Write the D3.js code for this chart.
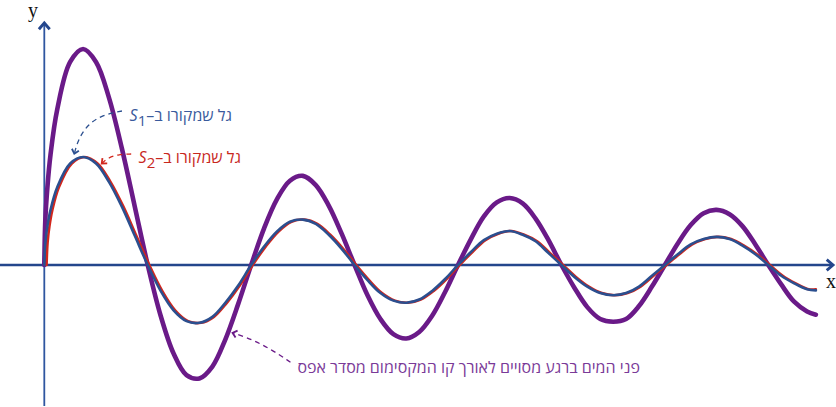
<!DOCTYPE html>
<html>
<head>
<meta charset="utf-8">
<script src="https://cdn.jsdelivr.net/npm/d3@7"></script>
<style>
  html, body { margin: 0; padding: 0; background: #fff; }
  svg { display: block; }
</style>
</head>
<body>
<svg id="chart" width="836" height="407"></svg>
<script>
// ---- data ----
// positions along x, in half-wavelength units (zeros at whole numbers)
const tGrid = [0, 0.01, 0.03, 0.06, 0.125, 0.25, 0.375, 0.5, 0.625, 0.75, 0.875, 1,
  1.125, 1.25, 1.375, 1.5, 1.625, 1.75, 1.875, 2,
  2.125, 2.25, 2.375, 2.5, 2.625, 2.75, 2.875, 3,
  3.125, 3.25, 3.375, 3.5, 3.625, 3.75, 3.875, 4,
  4.125, 4.25, 4.375, 4.5, 4.625, 4.75, 4.875, 5,
  5.125, 5.25, 5.375, 5.5, 5.625, 5.75, 5.875, 6,
  6.125, 6.25, 6.375, 6.5, 6.625, 6.75, 6.875, 7,
  7.125, 7.25, 7.375, 7.46];

// wave from S1 (blue)
const s1Values = [0, 0.21, 0.36, 0.51, 0.72, 0.94, 1.00, 0.94, 0.77, 0.54, 0.27, 0,
  -0.24, -0.42, -0.52, -0.535, -0.48, -0.35, -0.19, 0,
  0.17, 0.31, 0.40, 0.42, 0.38, 0.28, 0.15, 0,
  -0.14, -0.26, -0.33, -0.35, -0.32, -0.24, -0.13, 0,
  0.12, 0.23, 0.29, 0.315, 0.28, 0.22, 0.11, 0,
  -0.11, -0.20, -0.26, -0.28, -0.26, -0.20, -0.10, 0,
  0.10, 0.19, 0.24, 0.26, 0.24, 0.18, 0.10, 0,
  -0.10, -0.17, -0.225, -0.235];

// wave from S2 (red) – slightly later start
const s2X = [0.022, 0.032, 0.05, 0.078, 0.141, 0.266, 0.39, 0.515, 0.64, 0.765, 0.89, 1.015,
  1.14, 1.265, 1.39, 1.515, 1.64, 1.765, 1.89, 2.015,
  2.14, 2.265, 2.39, 2.515, 2.64, 2.765, 2.89, 3.015,
  3.14, 3.265, 3.39, 3.515, 3.64, 3.765, 3.89, 4.015,
  4.14, 4.265, 4.39, 4.515, 4.64, 4.765, 4.89, 5.015,
  5.14, 5.265, 5.39, 5.515, 5.64, 5.765, 5.89, 6.015,
  6.14, 6.265, 6.39, 6.515, 6.64, 6.765, 6.89, 7.015,
  7.14, 7.265, 7.39, 7.46];
const s2Values = [0, 0.21, 0.36, 0.51, 0.72, 0.94, 1.00, 0.94, 0.77, 0.54, 0.27, 0,
  -0.24, -0.42, -0.52, -0.535, -0.48, -0.35, -0.19, 0,
  0.17, 0.31, 0.40, 0.42, 0.38, 0.28, 0.15, 0,
  -0.14, -0.26, -0.33, -0.35, -0.32, -0.24, -0.13, 0,
  0.12, 0.23, 0.29, 0.315, 0.28, 0.22, 0.11, 0,
  -0.11, -0.20, -0.26, -0.28, -0.26, -0.20, -0.10, 0,
  0.10, 0.19, 0.24, 0.26, 0.24, 0.18, 0.10, 0,
  -0.10, -0.17, -0.225, -0.225];

// water surface along the zeroth-order maximum line (purple)
const surfaceValues = [0, 0.42, 0.72, 1.02, 1.44, 1.88, 2.00, 1.88, 1.55, 1.08, 0.54, 0,
  -0.47, -0.82, -1.02, -1.05, -0.94, -0.69, -0.36, 0,
  0.34, 0.61, 0.78, 0.825, 0.74, 0.55, 0.29, 0,
  -0.28, -0.50, -0.64, -0.68, -0.62, -0.47, -0.25, 0,
  0.24, 0.45, 0.58, 0.62, 0.57, 0.43, 0.23, 0,
  -0.21, -0.39, -0.50, -0.525, -0.50, -0.38, -0.20, 0,
  0.20, 0.37, 0.48, 0.51, 0.47, 0.36, 0.19, 0,
  -0.18, -0.34, -0.43, -0.46];

const labelS1 = "גל שמקורו ב–";
const labelS2 = "גל שמקורו ב–";
const labelSurface = "פני המים ברגע מסויים לאורך קו המקסימום מסדר אפס";

// ---- drawing ----
const svg = d3.select("#chart");
const x = d3.scaleLinear().domain([0, 7.5]).range([44.3, 820]);
const y = d3.scaleLinear().domain([-1, 2]).range([373, 49]);

const axisColor = "#24468c";
const blue = "#2b4f8f";
const red = "#d2261c";
const purple = "#6a1a88";

const defs = svg.append("defs");
function chevron(id, color, size, sw) {
  defs.append("marker")
    .attr("id", id).attr("viewBox", "-10 -10 20 20")
    .attr("markerWidth", size).attr("markerHeight", size)
    .attr("markerUnits", "userSpaceOnUse")
    .attr("refX", 0).attr("refY", 0).attr("orient", "auto")
    .append("path").attr("d", "M-7,-6 L0,0 L-7,6")
    .attr("fill", "none").attr("stroke", color).attr("stroke-width", sw)
    .attr("stroke-linejoin", "miter");
}
chevron("axArrow", axisColor, 18, 3.2);
chevron("blueArrow", blue, 12, 3);
chevron("redArrow", red, 12, 3);
chevron("purpleArrow", purple, 12, 3);

// axes
svg.append("line")
  .attr("x1", 0).attr("x2", 833).attr("y1", y(0)).attr("y2", y(0))
  .attr("stroke", axisColor).attr("stroke-width", 2.6)
  .attr("marker-end", "url(#axArrow)");
svg.append("line")
  .attr("x1", x(0)).attr("x2", x(0)).attr("y1", 406).attr("y2", 23)
  .attr("stroke", "#2f56a0").attr("stroke-width", 1.8)
  .attr("marker-end", "url(#axArrow)");

svg.append("text").attr("x", 28).attr("y", 17)
  .attr("font-family", "Liberation Serif, DejaVu Serif, serif")
  .attr("font-size", 20).attr("fill", "#111").text("y");
svg.append("text").attr("x", 826).attr("y", 288)
  .attr("font-family", "Liberation Serif, DejaVu Serif, serif")
  .attr("font-size", 20).attr("fill", "#111").text("x");

// curves
const curve = d3.curveCatmullRom.alpha(0.5);
const line = d3.line().x(d => x(d[0])).y(d => y(d[1])).curve(curve);

svg.append("path").datum(tGrid.map((t, i) => [t, surfaceValues[i]]))
  .attr("d", line).attr("fill", "none").attr("stroke", purple)
  .attr("stroke-width", 4.6).attr("stroke-linecap", "round").attr("stroke-linejoin", "round");
svg.append("path").datum(s2X.map((t, i) => [t, s2Values[i]]))
  .attr("d", line).attr("fill", "none").attr("stroke", red)
  .attr("stroke-width", 2.6).attr("stroke-linecap", "round");
svg.append("path").datum(tGrid.map((t, i) => [t, s1Values[i]]))
  .attr("d", line).attr("fill", "none").attr("stroke", blue)
  .attr("stroke-width", 2.6).attr("stroke-linecap", "round");

// annotation arrows (data coordinates)
const annLine = d3.line().x(d => x(d[0])).y(d => y(d[1])).curve(d3.curveBasis);
const arrowS1 = [[0.751, 1.426], [0.56, 1.39], [0.42, 1.30], [0.33, 1.17], [0.29, 1.03]];
const arrowS2 = [[0.84, 1.028], [0.72, 1.025], [0.62, 0.995], [0.555, 0.94]];
const arrowSurface = [[2.38, -0.90], [2.20, -0.785], [2.03, -0.70], [1.89, -0.648], [1.82, -0.628]];

function dashed(pts, color, marker) {
  svg.append("path").datum(pts).attr("d", annLine)
    .attr("fill", "none").attr("stroke", color).attr("stroke-width", 1.3)
    .attr("stroke-dasharray", "5,4").attr("marker-end", `url(#${marker})`);
}
dashed(arrowS1, blue, "blueArrow");
dashed(arrowS2, red, "redArrow");
dashed(arrowSurface, purple, "purpleArrow");

// labels
const hebFont = "Open Sans, Liberation Sans, DejaVu Sans, sans-serif";
function sLabel(px, py, txt, sub, color) {
  const t = svg.append("text").attr("x", px).attr("y", py)
    .attr("direction", "rtl").attr("text-anchor", "start")
    .attr("font-family", hebFont).attr("font-size", 16).attr("fill", color);
  t.append("tspan").text(txt);
  t.append("tspan").attr("font-style", "italic").text("S");
  t.append("tspan").attr("dy", 5).attr("font-size", 15).text(sub);
}
sLabel(x(1.815), y(1.333), labelS1, "1", "#3a5a9c");
sLabel(x(1.902), y(0.944), labelS2, "2", "#c8281e");

svg.append("text").attr("x", x(5.759)).attr("y", y(-1.0))
  .attr("direction", "rtl").attr("text-anchor", "start")
  .attr("font-family", hebFont).attr("font-size", 16).attr("fill", "#7a3a98")
  .text(labelSurface);
</script>
</body>
</html>
